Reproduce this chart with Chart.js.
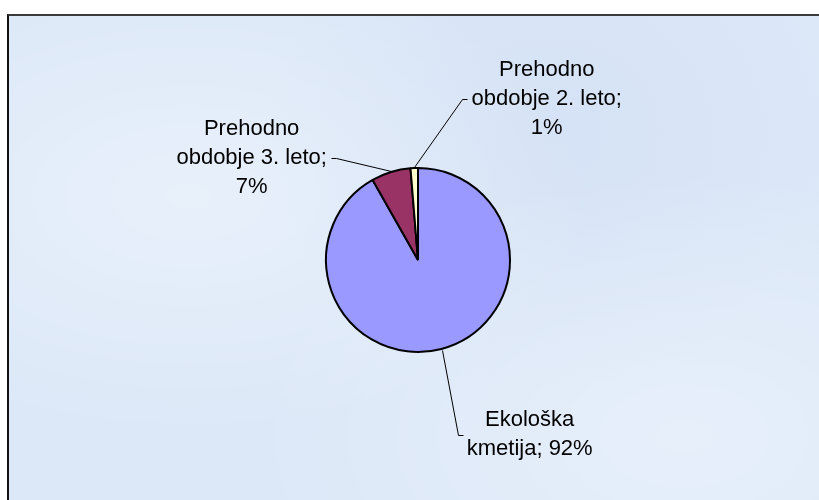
<!DOCTYPE html>
<html><head><meta charset="utf-8">
<script src="https://cdn.jsdelivr.net/npm/chart.js@4/dist/chart.umd.min.js"></script>
<style>
html,body{margin:0;padding:0;background:#fff;overflow:hidden}
#frame{position:absolute;left:7px;top:14px;width:900px;height:600px;border-left:2px solid #111;border-top:2px solid #3a3a3a;
 background:#dce8f8;
 background-image:
  radial-gradient(ellipse at 20% 30%, rgba(255,255,255,0.35), rgba(255,255,255,0) 40%),
  radial-gradient(ellipse at 75% 70%, rgba(255,255,255,0.3), rgba(255,255,255,0) 45%),
  radial-gradient(ellipse at 60% 20%, rgba(200,215,240,0.35), rgba(200,215,240,0) 40%);}
#c{position:absolute;left:0;top:0}
</style></head><body>
<div id="frame"></div>
<canvas id="c" width="819" height="500"></canvas>
<script>
// Data
const categories = ['Ekološka kmetija', 'Prehodno obdobje 3. leto', 'Prehodno obdobje 2. leto'];
const shares = [91.8, 6.9, 1.3];
const sliceColors = ['#9999FF', '#993366', '#FFFFCC'];
// Label text lines ({p} = percentage)
const labelLines = [
  ['Ekološka', 'kmetija; {p}%'],
  ['Prehodno', 'obdobje 3. leto;', '{p}%'],
  ['Prehodno', 'obdobje 2. leto;', '{p}%']
];
// Label block centre offset from the slice's outer mid-point (styling)
const labelOffsets = [[88, 85], [-139, -13], [132.5, -68]];

const total = shares.reduce((a, b) => a + b, 0);

const leaderLabels = {
  id: 'leaderLabels',
  afterDatasetsDraw(chart) {
    const ctx = chart.ctx;
    const meta = chart.getDatasetMeta(0);
    ctx.save();
    ctx.font = '22px "Liberation Sans", Arial, sans-serif';
    ctx.fillStyle = '#000';
    ctx.strokeStyle = '#000';
    ctx.lineWidth = 1;
    const lh = 29;
    meta.data.forEach((arc, i) => {
      const p = arc.getProps(['x', 'y', 'startAngle', 'endAngle', 'outerRadius'], true);
      const mid = (p.startAngle + p.endAngle) / 2;
      const ax = p.x + Math.cos(mid) * (p.outerRadius + 1);
      const ay = p.y + Math.sin(mid) * (p.outerRadius + 1);
      const cx = ax + labelOffsets[i][0];
      const cy = ay + labelOffsets[i][1];
      const pct = Math.round(shares[i] / total * 100);
      const lines = labelLines[i].map(s => s.replace('{p}', pct));
      const n = lines.length;
      let maxW = 0;
      lines.forEach(l => { maxW = Math.max(maxW, ctx.measureText(l).width); });
      ctx.textAlign = 'center';
      ctx.textBaseline = 'alphabetic';
      lines.forEach((l, k) => {
        ctx.fillText(l, cx, cy + 5.5 + (k - (n - 1) / 2) * lh);
      });
      const dir = labelOffsets[i][0] > 0 ? 1 : -1;
      const endX = cx - dir * (maxW / 2 + 4);
      const elbowX = endX - dir * 5;
      ctx.beginPath();
      ctx.moveTo(Math.round(ax) + 0.5, Math.round(ay) + 0.5);
      ctx.lineTo(Math.round(elbowX) + 0.5, Math.round(cy) + 0.5);
      ctx.lineTo(Math.round(endX) + 0.5, Math.round(cy) + 0.5);
      ctx.stroke();
    });
    ctx.restore();
  }
};

new Chart(document.getElementById('c'), {
  type: 'pie',
  data: {
    labels: categories,
    datasets: [{
      data: shares,
      backgroundColor: sliceColors,
      borderColor: '#000',
      borderWidth: 2
    }]
  },
  options: {
    responsive: false,
    animation: false,
    layout: { padding: { left: 325, right: 308, top: 167, bottom: 147 } },
    plugins: { legend: { display: false }, tooltip: { enabled: false } }
  },
  plugins: [leaderLabels]
});
</script>
</body></html>
